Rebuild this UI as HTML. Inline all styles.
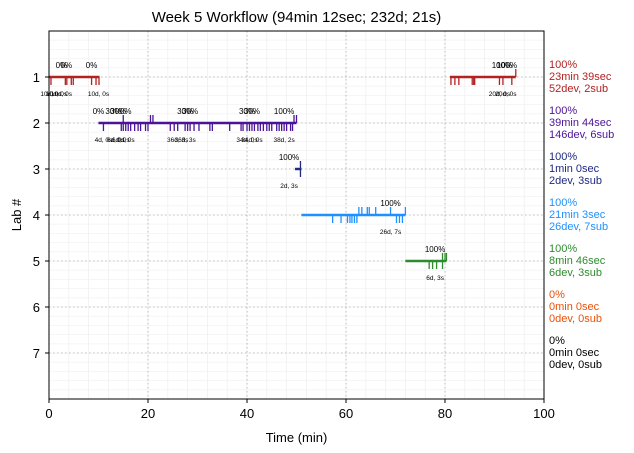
<!DOCTYPE html>
<html><head><meta charset="utf-8"><style>
html,body{margin:0;padding:0;background:#fff}
svg{display:block;font-family:"Liberation Sans","DejaVu Sans",sans-serif}
</style></head><body>
<svg id="chart" width="634" height="453"></svg>
<script>
const labs=[1,2,3,4,5,6,7];
const labColors=["#b22222","#4b1496","#1f2a80","#1e90ff","#2e8b2e","#e8500a","#000000"];
const segStart=[[0,81],[10,],[49.7],[51],[72],[],[]];
const segEnd=[[10.2,94.3],[50],[51],[72],[80.3],[],[]];
const devTicks=[[0.4,3.3,3.6,4.5,4.9,8.6,9.5,10.1,81.2,82,82.8,85.5,85.8,86,91,91.7,93.5],
[11,14.6,15,15.5,16,16.5,17.3,18,18.5,19.5,20,24.5,25.3,26,27.5,28,28.5,29.3,30.3,32.5,33,36.5,38.8,39.2,40,40.5,41,41.5,42.2,42.7,43.3,44,44.5,45,46,46.5,47,47.5,48,48.8,49.2],
[50.8],[57.3,59,60.3,60.8,61.2,61.7,62.2,70.2,70.8,71.4],[76.8,77.5,78.3,79.5],[],[]];
const subTicks=[[94.3],[15,20.5,21,49.5,50],[50.8],[62.6,63.2,64.3,64.7,66,69,72],[79.5,80,80.3],[],[]];
const pctLabels=[[[2.5,"0%"],[3.5,"0%"],[8.6,"0%"],[91.5,"100%"],[92.5,"100%"]],
[[10,"0%"],[13,"30%"],[14,"30%"],[15.5,"0%"],[27.5,"30%"],[28.5,"30%"],[40,"30%"],[41,"30%"],[47.5,"100%"]],
[[48.5,"100%"]],[[69,"100%"]],[[78,"100%"]],[],[]];
const devLabels=[[[0.4,"10d, 0s"],[1.5,"10d, 0s"],[2.5,"10d, 0s"],[10,"10d, 0s"],[91,"20d, 0s"],[92.3,"20d, 0s"]],
[[11,"4d, 0s"],[13.5,"6d, 0s"],[14.5,"6d, 0s"],[15.5,"0d, 0s"],[26,"36d, 3s"],[27.5,"36d, 3s"],[40,"34d, 0s"],[41,"34d, 0s"],[47.5,"38d, 2s"]],
[[48.5,"2d, 3s"]],[[69,"26d, 7s"]],[[78,"6d, 3s"]],[],[]];
const summary=[["100%","23min 39sec","52dev, 2sub"],["100%","39min 44sec","146dev, 6sub"],["100%","1min 0sec","2dev, 3sub"],["100%","21min 3sec","26dev, 7sub"],["100%","8min 46sec","6dev, 3sub"],["0%","0min 0sec","0dev, 0sub"],["0%","0min 0sec","0dev, 0sub"]];
const xTicks=[0,20,40,60,80,100];

const X0=49,X1=544,Y0=31,Y1=399;
const xs=v=>X0+(v/100)*(X1-X0);
const ys=v=>Y0+(v/8)*(Y1-Y0);
const svg=document.getElementById('chart');
const NS="http://www.w3.org/2000/svg";
function mk(tag,attrs,parent){const e=document.createElementNS(NS,tag);for(const k in attrs)e.setAttribute(k,attrs[k]);(parent||svg).appendChild(e);return e;}

// minor grid
for(let v=0;v<=100;v+=4){const l=mk('line',{x1:xs(v),x2:xs(v),y1:Y0,y2:Y1,stroke:'#f0f0f0','stroke-width':0.8});

}
for(let v=0;v<=8;v+=0.2){const l=mk('line',{x1:X0,x2:X1,y1:ys(v),y2:ys(v),stroke:'#f3f3f3','stroke-width':0.8});

}
// major grid
xTicks.forEach(v=>{const l=mk('line',{x1:xs(v),x2:xs(v),y1:Y0,y2:Y1,stroke:'#b0b0b0','stroke-width':0.8,'stroke-dasharray':'1.5,2.5'});

});
labs.forEach(v=>{const l=mk('line',{x1:X0,x2:X1,y1:ys(v),y2:ys(v),stroke:'#b0b0b0','stroke-width':0.8,'stroke-dasharray':'1.5,2.5'});

});

// series
labs.forEach((lab,i)=>{
  const g=mk('g',{});
  
  
  const y=ys(lab),c=labColors[i];
  segStart[i].forEach((s,j)=>{const l=mk('line',{x1:xs(s),x2:xs(segEnd[i][j]),y1:y,y2:y,stroke:c,'stroke-width':2.5},g);
    
    });
  devTicks[i].forEach(t=>{const l=mk('line',{x1:xs(t),x2:xs(t),y1:y,y2:y+8,stroke:c,'stroke-width':1.3},g);
    
    });
  subTicks[i].forEach(t=>{const l=mk('line',{x1:xs(t),x2:xs(t),y1:y-8,y2:y,stroke:c,'stroke-width':1.3},g);
    
    });
  pctLabels[i].forEach(p=>{const t=mk('text',{x:xs(p[0]),y:y-9,'font-size':8,'text-anchor':'middle',fill:'#000'},g);t.textContent=p[1];
    
    });
  devLabels[i].forEach(p=>{const t=mk('text',{x:xs(p[0]),y:y+19,'font-size':6.5,'text-anchor':'middle',fill:'#000'},g);t.textContent=p[1];
    
    });
  summary[i].forEach((s,k)=>{const t=mk('text',{x:549,y:y-9+k*12,'font-size':11,fill:c});t.textContent=s;
    
    });
});

// axes frame
const fr=mk('rect',{x:X0,y:Y0,width:X1-X0,height:Y1-Y0,fill:'none',stroke:'#000','stroke-width':1});


xTicks.forEach(v=>{mk('line',{x1:xs(v),x2:xs(v),y1:Y1,y2:Y1+4,stroke:'#000'});
  const t=mk('text',{x:xs(v),y:Y1+19,'font-size':13,'text-anchor':'middle'});t.textContent=v;
  
  });
labs.forEach(v=>{mk('line',{x1:X0-4,x2:X0,y1:ys(v),y2:ys(v),stroke:'#000'});
  const t=mk('text',{x:X0-9,y:ys(v)+5,'font-size':13,'text-anchor':'end'});t.textContent=v;
  
  });
const xt=mk('text',{x:(X0+X1)/2,y:442,'font-size':13,'text-anchor':'middle'});xt.textContent='Time (min)';


const yt=mk('text',{x:0,y:0,'font-size':13,'text-anchor':'middle',transform:'translate(21,'+((Y0+Y1)/2)+') rotate(-90)'});yt.textContent='Lab #';


const tt=mk('text',{x:(X0+X1)/2,y:22,'font-size':15,'text-anchor':'middle'});tt.textContent='Week 5 Workflow (94min 12sec; 232d; 21s)';


</script>
</body></html>
